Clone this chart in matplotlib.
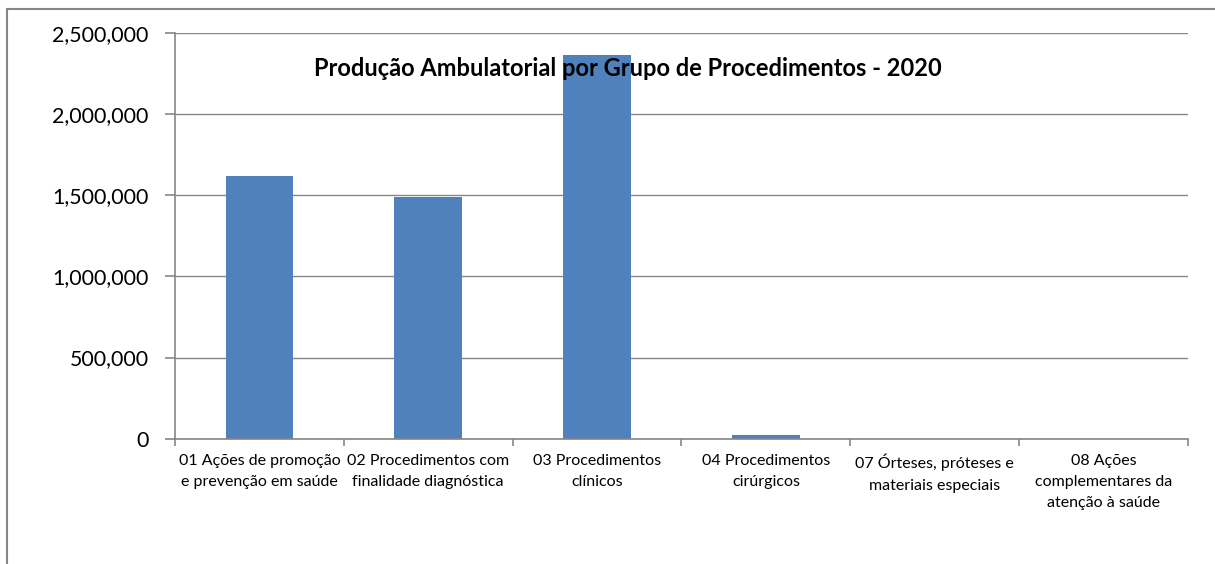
import matplotlib
matplotlib.use("Agg")
import matplotlib.pyplot as plt
from matplotlib.patches import Rectangle
from matplotlib.ticker import FuncFormatter

plt.rcParams['font.family'] = ['Lato', 'DejaVu Sans']

# Data
categories = [
    '01 Ações de promoção\ne prevenção em saúde',
    '02 Procedimentos com\nfinalidade diagnóstica',
    '03 Procedimentos\nclínicos',
    '04 Procedimentos\ncirúrgicos',
    '07 Órteses, próteses e\nmateriais especiais',
    '08 Ações\ncomplementares da\natenção à saúde',
]
values = [1617000, 1488000, 2365000, 22000, 1200, 150]
yticks = [0, 500000, 1000000, 1500000, 2000000, 2500000]

grey = '#868686'
bar_color = '#4F81BD'

fig = plt.figure(figsize=(12.15, 5.64), dpi=100)
ax = fig.add_axes([175 / 1215, 1 - 438.7 / 564, 1013 / 1215, 405.7 / 564])

x = list(range(len(categories)))
ax.bar(x, values, width=0.4, color=bar_color, zorder=2)

ax.set_xlim(-0.5, len(categories) - 0.5)
ax.set_ylim(0, 2500000)
ax.set_yticks(yticks)
ax.yaxis.set_major_formatter(FuncFormatter(lambda v, p: f'{int(v):,}'))
ax.set_xticks(x)
ax.set_xticklabels(categories, fontsize=11.5, linespacing=1.65, va='top')
ax.set_xticks([i - 0.5 for i in range(len(categories) + 1)], minor=True)

ax.grid(axis='y', color=grey, linewidth=1, zorder=0)
for s in ['top', 'right']:
    ax.spines[s].set_visible(False)
for s in ['left', 'bottom']:
    ax.spines[s].set_color(grey)
    ax.spines[s].set_linewidth(1.2)

ax.tick_params(axis='y', labelsize=15.4, length=7, color=grey, width=1.2, pad=12)
ax.tick_params(axis='x', which='major', length=0, pad=11)
ax.tick_params(axis='x', which='minor', length=5, color=grey, width=1.2)

# title sits inside the plot area, above the bars
fig.text(628 / 1215, 1 - 68 / 564, 'Produção Ambulatorial por Grupo de Procedimentos - 2020',
         ha='center', va='center', fontsize=17, fontweight='bold', zorder=5)

# outer chart border (only left and top edges visible)
fig.patches.append(Rectangle((7 / 1215, -0.5), 2, 1.5 - 9 / 564,
                             transform=fig.transFigure, fill=False,
                             edgecolor=grey, linewidth=1.5, clip_on=False))

fig.savefig('out.png', dpi=100)
